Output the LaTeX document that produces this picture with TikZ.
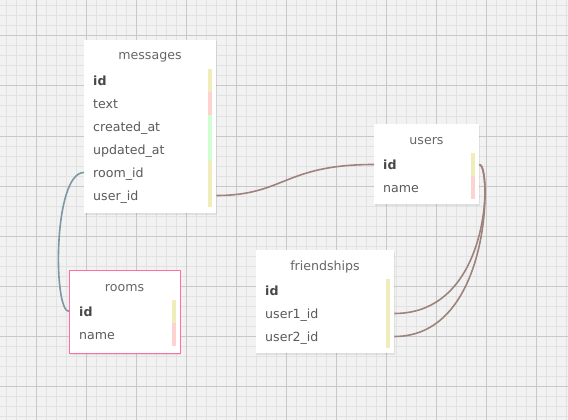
\documentclass[tikz,border=0pt]{standalone}
\usepackage{fontspec}
\setmainfont{DejaVu Sans}
\definecolor{bg}{HTML}{F2F2F2}
\definecolor{minorc}{HTML}{E2E2E2}
\definecolor{majorc}{HTML}{C8C8C8}
\definecolor{ttlc}{HTML}{666666}
\definecolor{fldc}{HTML}{5A5A5A}
\definecolor{idc}{HTML}{484848}
\definecolor{baryel}{HTML}{F0EDBA}
\definecolor{barpink}{HTML}{FFD2D2}
\definecolor{bargreen}{HTML}{D2FCD2}
\definecolor{brownc}{HTML}{9E837D}
\definecolor{bluec}{HTML}{7D97A2}
\definecolor{pinkborder}{HTML}{FF6FA2}
\tikzset{
  minorline/.style={draw=minorc, line width=1pt},
  majorline/.style={draw=majorc, line width=1pt},
  tbl/.style={fill=white, draw=none, inner sep=0pt, anchor=north west},
  tblshadow/.style={fill=black, fill opacity=0.07, draw=none},
  ttl/.style={font=\fontsize{12.6}{14}\selectfont, text=ttlc, inner sep=0pt, text height=11pt, text depth=1pt},
  fld/.style={font=\fontsize{12.6}{14}\selectfont, text=fldc, anchor=west, inner xsep=9pt, inner ysep=0pt,
              align=left, minimum height=23pt, text height=11pt, text depth=1pt},
  pkfld/.style={fld, font=\fontsize{12.6}{14}\selectfont\bfseries, text=idc},
  rel/.style={draw=brownc, line width=1.6pt},
  relblue/.style={draw=bluec, line width=1.6pt},
}
\begin{document}
\begin{tikzpicture}[x=1pt,y=-1pt]
\useasboundingbox (0,0) rectangle (568,420);
\fill[bg] (0,0) rectangle (568,420);
\foreach \v in {6,16,...,566} \draw[minorline] (\v,0) -- (\v,420);
\foreach \v in {6,16,...,416} \draw[minorline] (0,\v) -- (568,\v);
\foreach \v in {36,86,...,536} \draw[majorline] (\v,0) -- (\v,420);
\foreach \v in {36,86,...,386} \draw[majorline] (0,\v) -- (568,\v);

% shadows
\fill[tblshadow] (85,41.5) rectangle (217,214.5);
\fill[tblshadow] (375,125.5) rectangle (480,205.5);
\fill[tblshadow] (257,251.5) rectangle (395,354.5);
\fill[tblshadow] (70,271.5) rectangle (181,354.5);

% messages
\node[tbl, minimum width=132pt, minimum height=173pt] (messages) at (84,40) {};
\node[ttl] (messages-t) at (150,55) {messages};
\node[pkfld, text width=114pt] (m-id) at (84,80.5) {id};
\node[fld, text width=114pt] (m-text) at (84,103.5) {text};
\node[fld, text width=114pt] (m-cr) at (84,126.5) {created\_at};
\node[fld, text width=114pt] (m-up) at (84,149.5) {updated\_at};
\node[fld, text width=114pt] (m-room) at (84,172.5) {room\_id};
\node[fld, text width=114pt] (m-user) at (84,195.5) {user\_id};
\fill[baryel] (208,69) rectangle (212,92);
\fill[barpink] (208,92) rectangle (212,115);
\fill[bargreen] (208,115) rectangle (212,161);
\fill[baryel] (208,161) rectangle (212,207);

% users
\node[tbl, minimum width=105pt, minimum height=80pt] (users) at (374,124) {};
\node[ttl] (users-t) at (426.5,139) {users};
\node[pkfld, text width=87pt] (u-id) at (374,164.5) {id};
\node[fld, text width=87pt] (u-name) at (374,187.5) {name};
\fill[baryel] (471,153) rectangle (475,176);
\fill[barpink] (471,176) rectangle (475,199);

% friendships
\node[tbl, minimum width=138pt, minimum height=103pt] (friendships) at (256,250) {};
\node[ttl] (friendships-t) at (325,265) {friendships};
\node[pkfld, text width=120pt] (f-id) at (256,290.5) {id};
\node[fld, text width=120pt] (f-u1) at (256,313.5) {user1\_id};
\node[fld, text width=120pt] (f-u2) at (256,336.5) {user2\_id};
\fill[baryel] (386,279) rectangle (390,348);

% rooms
\node[tbl, draw=pinkborder, line width=1pt, minimum width=111pt, minimum height=83pt] (rooms) at (69,270) {};
\node[ttl] (rooms-t) at (124.5,286) {rooms};
\node[pkfld, text width=92pt, inner xsep=10pt] (r-id) at (69,311.5) {id};
\node[fld, text width=92pt, inner xsep=10pt] (r-name) at (69,334.5) {name};
\fill[baryel] (172,300) rectangle (176,323);
\fill[barpink] (172,323) rectangle (176,346);

% relations
\draw[rel] (m-user.east) .. controls +(68,0) and +(-90,0) .. (u-id.west);
\draw[relblue] (m-room.west) .. controls +(-31,0) and +(-16,0) .. (r-id.west);
\draw[rel] (u-id.east) .. controls +(12,0) and +(98,0) .. (f-u1.east);
\draw[rel] (u-id.east) .. controls +(12,0) and +(98,0) .. (f-u2.east);
\end{tikzpicture}
\end{document}
